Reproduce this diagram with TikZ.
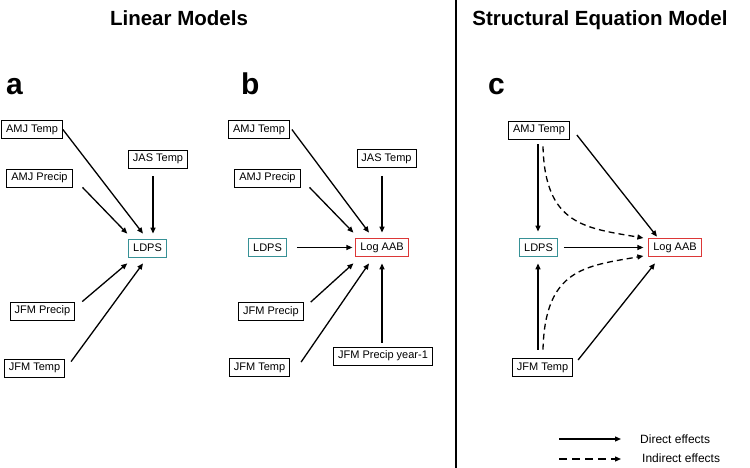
\documentclass[tikz,border=0pt]{standalone}
\usepackage{fontspec}
\setmainfont{Liberation Sans}
\usetikzlibrary{arrows.meta,calc}
\definecolor{tealbox}{RGB}{55,145,150}
\definecolor{redbox}{RGB}{220,55,55}
\begin{document}
\begin{tikzpicture}[x=1pt,y=-1pt,
  box/.style={draw=black,line width=0.8pt,minimum height=18pt,inner xsep=4.5pt,inner ysep=0pt,font=\fontsize{11}{12}\selectfont},
  tbox/.style={box,draw=tealbox},
  rbox/.style={box,draw=redbox},
  arr/.style={line width=1.3pt,-{Triangle[length=6pt,width=5pt]}},
  darr/.style={arr,dash pattern=on 6pt off 4pt},
  ldarr/.style={arr,dash pattern=on 8pt off 5pt},
  ttl/.style={font=\fontsize{20.5}{24}\selectfont\bfseries,anchor=base,inner sep=0pt},
  lett/.style={font=\fontsize{30}{34}\selectfont\bfseries,anchor=base west,inner sep=0pt},
  leg/.style={font=\fontsize{12}{14}\selectfont,anchor=west,inner sep=0pt}]
\useasboundingbox (0,0) rectangle (750,468);
\fill[white] (0,0) rectangle (750,468);
% divider and titles
\draw[line width=2.5pt] (456,0) -- (456,468);
\node[ttl] (t1) at (179,26) {Linear Models};
\node[ttl] (t2) at (600,26) {Structural Equation Model};
\node[lett] (la) at (6,95) {a};
\node[lett] (lb) at (241,95) {b};
\node[lett] (lc) at (488,95) {c};
% ---------- panel a
\node[box] (aAT) at (32,129.5) {AMJ Temp};
\node[box] (aJT) at (158,159) {JAS Temp};
\node[box] (aAP) at (39.5,178) {AMJ Precip};
\node[tbox] (aL) at (147.5,248) {LDPS};
\node[box] (aFP) at (42.5,311) {JFM Precip};
\node[box] (aFT) at (34.5,368) {JFM Temp};
\draw[arr] (aAT.east) -- ([xshift=-4.5pt,yshift=5pt]aL.north);
\draw[arr] ([xshift=10pt]aAP.south east) -- ([xshift=-1pt,yshift=5pt]aL.north west);
\draw[arr] ([xshift=-5pt,yshift=-8pt]aJT.south) -- ([xshift=5.5pt,yshift=5pt]aL.north);
\draw[arr] ([xshift=7pt]aFP.north east) -- ([xshift=-1pt,yshift=-6pt]aL.south west);
\draw[arr] ([xshift=6pt,yshift=-3pt]aFT.north east) -- ([xshift=-4.5pt,yshift=-6pt]aL.south);
% ---------- panel b
\node[box] (bAT) at (259,129.5) {AMJ Temp};
\node[box] (bJT) at (386.5,158.5) {JAS Temp};
\node[box] (bAP) at (267.5,178) {AMJ Precip};
\node[tbox] (bL) at (267.5,247.5) {LDPS};
\node[rbox] (bA) at (382,247.5) {Log AAB};
\node[box] (bFP) at (271,311.5) {JFM Precip};
\node[box] (bFT) at (259.5,367.5) {JFM Temp};
\node[box] (bFY) at (383,356) {JFM Precip year-1};
\draw[arr] ([xshift=2pt]bAT.east) -- ([xshift=-13pt,yshift=5.5pt]bA.north);
\draw[arr] ([xshift=9pt]bAP.south east) -- ([xshift=-2pt,yshift=5.5pt]bA.north west);
\draw[arr] ([xshift=-4.5pt,yshift=-8pt]bJT.south) -- ([yshift=5.5pt]bA.north);
\draw[arr,shorten <=10pt,shorten >=3pt] (bL.east) -- (bA.west);
\draw[arr] ([xshift=7pt]bFP.north east) -- ([xshift=-2pt,yshift=-6.5pt]bA.south west);
\draw[arr] ([xshift=11pt,yshift=-4pt]bFT.north east) -- ([xshift=-13pt,yshift=-6.5pt]bA.south);
\draw[arr] ([xshift=-1pt,yshift=4pt]bFY.north) -- ([yshift=-6.5pt]bA.south);
% ---------- panel c
\node[box] (cAT) at (539,130) {AMJ Temp};
\node[tbox] (cL) at (538.5,247.5) {LDPS};
\node[rbox] (cA) at (675,247.5) {Log AAB};
\node[box] (cFT) at (542.5,367.5) {JFM Temp};
\draw[arr] ([xshift=-1pt,yshift=-5pt]cAT.south) -- ([xshift=-0.5pt,yshift=6.5pt]cL.north);
\draw[darr] ([xshift=4pt,yshift=-7pt]cAT.south) .. controls (545,225) and (585,228) .. ([xshift=-5pt,yshift=9.5pt]cA.west);
\draw[arr] ([xshift=7pt,yshift=-5pt]cAT.east) -- ([xshift=-18pt,yshift=1.5pt]cA.north);
\draw[arr,shorten <=6pt,shorten >=5pt] (cL.east) -- (cA.west);
\draw[darr] ([xshift=0.5pt,yshift=8.5pt]cFT.north) .. controls (545,269) and (585,266) .. ([xshift=-5pt,yshift=-8.5pt]cA.west);
\draw[arr] ([xshift=-4.5pt,yshift=8.5pt]cFT.north) -- ([xshift=-0.5pt,yshift=-6.5pt]cL.south);
\draw[arr] ([xshift=5pt,yshift=7.5pt]cFT.east) -- ([xshift=-20pt,yshift=-6.5pt]cA.south);
% ---------- legend
\coordinate (l1a) at (559,439);
\coordinate (l1b) at (621,439);
\coordinate (l2a) at (559,459);
\coordinate (l2b) at (621,459);
\draw[arr] (l1a) -- (l1b);
\draw[ldarr] (l2a) -- (l2b);
\node[leg] (d1) at (640,439) {Direct effects};
\node[leg] (d2) at (642,458) {Indirect effects};
\end{tikzpicture}
\end{document}
